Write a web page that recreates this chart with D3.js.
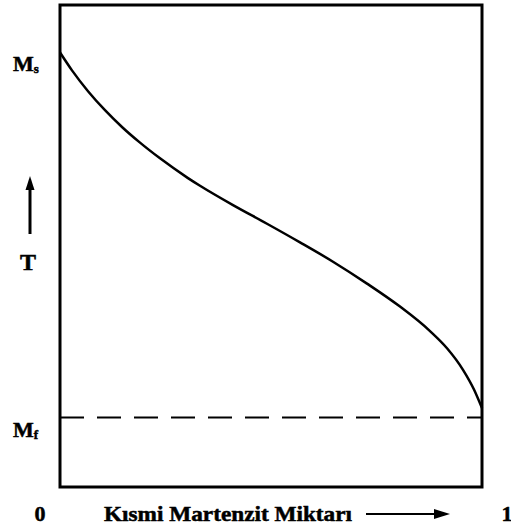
<!DOCTYPE html>
<html>
<head>
<meta charset="utf-8">
<script src="https://cdn.jsdelivr.net/npm/d3@7/dist/d3.min.js"></script>
<style>
  html, body { margin: 0; padding: 0; background: #fff; }
  svg { display: block; }
  text { font-family: "Liberation Serif", "DejaVu Serif", serif; font-weight: bold; fill: #000; stroke: #000; stroke-width: 0.5; }
</style>
</head>
<body>
<svg id="chart" width="511" height="532"></svg>
<script>
// Fraction of martensite (0..1) vs normalized temperature (Mf = 0, Ms = 1)
const fraction = [0, 0.0284, 0.0664, 0.1066, 0.1469, 0.1896, 0.2370, 0.3033, 0.3318, 0.4100, 0.4905, 0.5687, 0.6469, 0.7275, 0.8057, 0.8768, 0.9171, 0.9550, 0.9810, 1.0];
const temperature = [1.0, 0.951, 0.894, 0.842, 0.796, 0.753, 0.710, 0.656, 0.635, 0.582, 0.531, 0.480, 0.427, 0.367, 0.304, 0.237, 0.190, 0.131, 0.077, 0.026];
const levelNames = ["M", "M"];
const levelSubs = ["s", "f"];
const levelValues = [1.0, 0.0];
const xTickLabels = ["0", "1"];
const xTickValues = [0, 1];
const xTitle = "Kısmi Martenzit Miktarı";
const yTitle = "T";

const svg = d3.select("#chart");
const x = d3.scaleLinear().domain([0, 1]).range([60, 482]);
const y = d3.scaleLinear().domain([-0.19, 1.13]).range([487, 5]);

// Frame
svg.append("rect")
  .attr("x", x(0)).attr("y", y(1.13))
  .attr("width", x(1) - x(0)).attr("height", y(-0.19) - y(1.13))
  .attr("fill", "none").attr("stroke", "#000").attr("stroke-width", 3);

// Mf dashed line
svg.append("line")
  .attr("x1", x(0)).attr("x2", x(1))
  .attr("y1", y(levelValues[1])).attr("y2", y(levelValues[1]))
  .attr("stroke", "#000").attr("stroke-width", 2)
  .attr("stroke-dasharray", "24,13");

// Curve
const pts = fraction.map((f, i) => [f, temperature[i]]);
svg.append("path")
  .datum(pts)
  .attr("fill", "none").attr("stroke", "#000").attr("stroke-width", 2.5)
  .attr("d", d3.line().x(d => x(d[0])).y(d => y(d[1])).curve(d3.curveMonotoneX));

// Level labels Ms / Mf
levelNames.forEach((n, i) => {
  const t = svg.append("text")
    .attr("x", 13).attr("y", y(levelValues[i]) + 19)
    .attr("font-size", 22);
  t.append("tspan").text(n);
  t.append("tspan").attr("font-size", 13).attr("dy", 2).text(levelSubs[i]);
});

// Y title with up arrow
svg.append("line")
  .attr("x1", 30).attr("x2", 30).attr("y1", 234).attr("y2", 186)
  .attr("stroke", "#000").attr("stroke-width", 3);
svg.append("path")
  .attr("d", "M30,176 L34.5,190 L25.5,190 Z")
  .attr("fill", "#000");
svg.append("text")
  .attr("x", 28).attr("y", 270).attr("text-anchor", "middle")
  .attr("font-size", 24).text(yTitle);

// X tick labels
svg.selectAll(".xtick").data(xTickValues).enter().append("text")
  .attr("class", "xtick")
  .attr("x", d => d === 0 ? x(d) - 20 : x(d) + 25)
  .attr("y", 521).attr("text-anchor", "middle")
  .attr("font-size", 22)
  .text((d, i) => xTickLabels[i]);

// X title with right arrow
svg.append("text")
  .attr("x", 104).attr("y", 521)
  .attr("font-size", 21)
  .attr("textLength", 248).attr("lengthAdjust", "spacingAndGlyphs")
  .text(xTitle);
svg.append("line")
  .attr("x1", 366).attr("x2", 436).attr("y1", 514).attr("y2", 514)
  .attr("stroke", "#000").attr("stroke-width", 2);
svg.append("path")
  .attr("d", "M450,514 L434,509 L434,519 Z")
  .attr("fill", "#000");
</script>
</body>
</html>
